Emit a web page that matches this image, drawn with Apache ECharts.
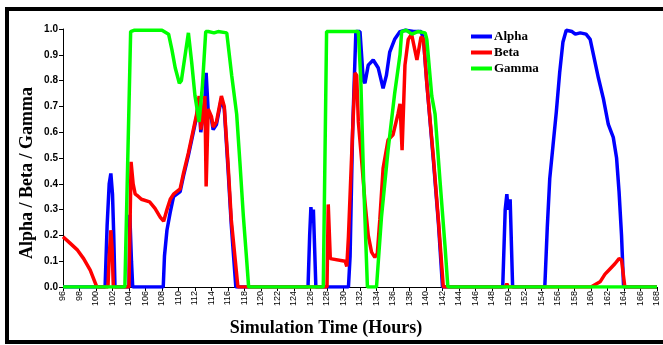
<!DOCTYPE html>
<html>
<head>
<meta charset="utf-8">
<script src="https://cdn.jsdelivr.net/npm/echarts@6/dist/echarts.min.js"></script>
<style>
html,body{margin:0;padding:0;background:#fff;}
#chart{width:663px;height:345px;}
</style>
</head>
<body>
<div id="chart"></div>
<script>
// ---- data ----
var seriesNames = ['Alpha', 'Beta', 'Gamma'];
var xTickLabels = [96,98,100,102,104,106,108,110,112,114,116,118,120,122,124,126,128,130,132,134,136,138,140,142,144,146,148,150,152,154,156,158,160,162,164,166,168];
var yTickLabels = ['0.0','0.1','0.2','0.3','0.4','0.5','0.6','0.7','0.8','0.9','1.0'];

var alphaHours = [96,101.1,101.35,101.6,101.8,102.0,102.15,102.3,104.0,104.1,104.3,104.45,108.15,108.3,108.6,109.0,109.4,110.2,110.6,111.2,111.6,112.2,112.5,112.7,113.0,113.2,113.35,113.6,114.0,114.2,114.6,115.2,115.55,116.0,116.4,116.95,125.7,125.9,126.05,126.2,126.35,126.5,126.65,130.6,130.8,131.1,131.5,132.0,132.4,132.6,133.0,133.6,134.2,134.8,135.2,135.6,136.2,136.85,137.5,138.5,139.4,139.7,140.1,140.9,141.5,142.0,149.3,149.6,149.8,149.95,150.2,150.5,154.4,154.7,155.0,155.4,155.8,156.2,156.6,157.0,157.7,158.1,158.7,159.4,159.9,160.3,160.9,161.5,162.1,162.7,163.1,163.4,163.7,163.95,168];
var alphaValues = [0,0,0.24,0.40,0.44,0.36,0.20,0,0,0.28,0.10,0,0,0.12,0.22,0.29,0.35,0.37,0.43,0.51,0.57,0.66,0.73,0.60,0.67,0.73,0.83,0.68,0.65,0.61,0.63,0.73,0.69,0.46,0.24,0,0,0.20,0.31,0.25,0.30,0.15,0,0,0.12,0.60,0.99,0.99,0.80,0.79,0.86,0.88,0.85,0.77,0.82,0.91,0.96,0.99,0.995,0.99,0.99,0.96,0.79,0.49,0.25,0,0,0.30,0.36,0.30,0.34,0,0,0.23,0.42,0.55,0.68,0.83,0.95,0.995,0.99,0.98,0.985,0.98,0.96,0.90,0.81,0.73,0.63,0.58,0.50,0.37,0.20,0,0];

var betaHours = [96,96.85,97.7,98.5,99.3,100.1,101.45,101.6,101.8,101.95,102.1,104.0,104.25,104.5,104.75,105.0,105.2,105.5,106.5,107.15,107.8,108.2,108.6,109.0,109.4,110.2,110.6,111.2,111.6,112.2,112.5,112.7,113.0,113.2,113.35,113.6,114.0,114.2,114.6,115.2,115.55,116.0,116.4,117.2,128.0,128.15,128.4,130.2,130.4,130.6,131.0,131.4,131.6,131.8,132.2,132.6,133.0,133.4,133.8,134.1,134.4,134.8,135.4,136.0,136.6,136.85,137.1,137.45,137.85,138.25,138.9,139.4,139.7,140.1,140.9,141.5,142.1,149.6,149.8,150.0,160.0,161.1,161.7,162.3,162.9,163.4,163.7,164.1,168];
var betaValues = [0.195,0.17,0.145,0.11,0.065,0,0,0.12,0.22,0.15,0,0,0.485,0.40,0.36,0.355,0.36,0.34,0.33,0.305,0.27,0.255,0.30,0.34,0.36,0.38,0.44,0.52,0.58,0.67,0.74,0.61,0.68,0.74,0.39,0.69,0.66,0.62,0.64,0.74,0.70,0.48,0.26,0,0,0.32,0.11,0.10,0.08,0.195,0.52,0.83,0.82,0.64,0.49,0.33,0.20,0.135,0.115,0.13,0.26,0.46,0.57,0.59,0.67,0.71,0.53,0.86,0.96,0.98,0.88,0.97,0.96,0.79,0.50,0.26,0,0,0.012,0,0,0.02,0.05,0.07,0.09,0.11,0.105,0,0];

var gammaHours = [96,103.5,104.2,104.6,108.0,108.8,109.2,109.6,110.1,110.35,111.2,111.6,112.0,112.5,112.9,113.3,113.6,114.3,114.8,115.85,116.45,117.05,117.45,117.85,118.25,118.5,127.55,127.95,131.8,132.1,132.45,132.9,134.0,134.6,135.4,136.2,136.85,137.05,137.6,138.3,139.0,139.9,140.1,140.7,141.1,141.7,142.3,142.65,168];
var gammaValues = [0,0,0.99,0.995,0.995,0.98,0.92,0.85,0.79,0.80,0.985,0.87,0.74,0.64,0.78,0.99,0.99,0.985,0.99,0.985,0.82,0.67,0.48,0.28,0.11,0,0,0.99,0.99,0.80,0.40,0,0,0.27,0.53,0.75,0.90,0.99,0.995,0.98,0.99,0.985,0.96,0.74,0.67,0.41,0.16,0,0];

function zip(xs, ys){ var out=[]; for(var i=0;i<xs.length;i++){ out.push([xs[i], ys[i]]); } return out; }

var colors = ['#0000ff', '#ff0000', '#00ff00'];
var dataSets = [zip(alphaHours, alphaValues), zip(betaHours, betaValues), zip(gammaHours, gammaValues)];

var chart = echarts.init(document.getElementById('chart'), null, {renderer:'canvas'});
var option = {
  animation: false,
  backgroundColor: '#ffffff',
  color: colors,
  grid: {left: 63, top: 29, right: 6, bottom: 58, containLabel: false},
  legend: {
    data: seriesNames,
    orient: 'vertical',
    left: 466,
    top: 25,
    itemWidth: 21,
    itemHeight: 4,
    itemGap: 3,
    icon: 'rect',
    textStyle: {fontFamily: 'Liberation Serif', fontWeight: 'bold', fontSize: 13, color: '#000', padding: [0,0,0,-3]}
  },
  xAxis: {
    type: 'value',
    min: 96, max: 168, interval: 2,
    axisLine: {show: true, lineStyle: {color: '#000', width: 1}},
    axisTick: {show: true, inside: false, length: 4, lineStyle: {color: '#000'}},
    splitLine: {show: false},
    axisLabel: {
      rotate: 90, margin: 4, fontSize: 9, color: '#000',
      fontFamily: 'Liberation Sans',
      formatter: function(v){ var i = xTickLabels.indexOf(v); return i >= 0 ? String(xTickLabels[i]) : ''; }
    }
  },
  yAxis: {
    type: 'value',
    min: 0, max: 1, interval: 0.1,
    axisLine: {show: true, lineStyle: {color: '#000', width: 1}},
    axisTick: {show: true, inside: false, length: 4, lineStyle: {color: '#000'}},
    splitLine: {show: false},
    axisLabel: {
      margin: 5, fontSize: 10, fontWeight: 'bold', color: '#000',
      fontFamily: 'Liberation Sans',
      formatter: function(v){ return yTickLabels[Math.round(v*10)]; }
    }
  },
  series: seriesNames.map(function(name, i){
    return {
      name: name,
      type: 'line',
      data: dataSets[i],
      symbol: 'none',
      lineStyle: {width: 3.5, color: colors[i]},
      itemStyle: {color: colors[i]},
      z: 2 + i
    };
  }),
  graphic: [
    {type: 'rect', shape: {x: 7, y: 9, width: 662, height: 333}, style: {fill: 'none', stroke: '#000', lineWidth: 4}, silent: true},
    {type: 'text', x: 27, y: 173, rotation: Math.PI/2, style: {text: 'Alpha / Beta / Gamma', font: 'bold 18px "Liberation Serif"', fill: '#000', x: 0, y: 0, align: 'center', verticalAlign: 'middle'}, silent: true},
    {type: 'text', style: {text: 'Simulation Time (Hours)', font: 'bold 18px "Liberation Serif"', fill: '#000', x: 326, y: 328, align: 'center', verticalAlign: 'middle'}, silent: true}
  ]
};
chart.setOption(option);
</script>
</body>
</html>
